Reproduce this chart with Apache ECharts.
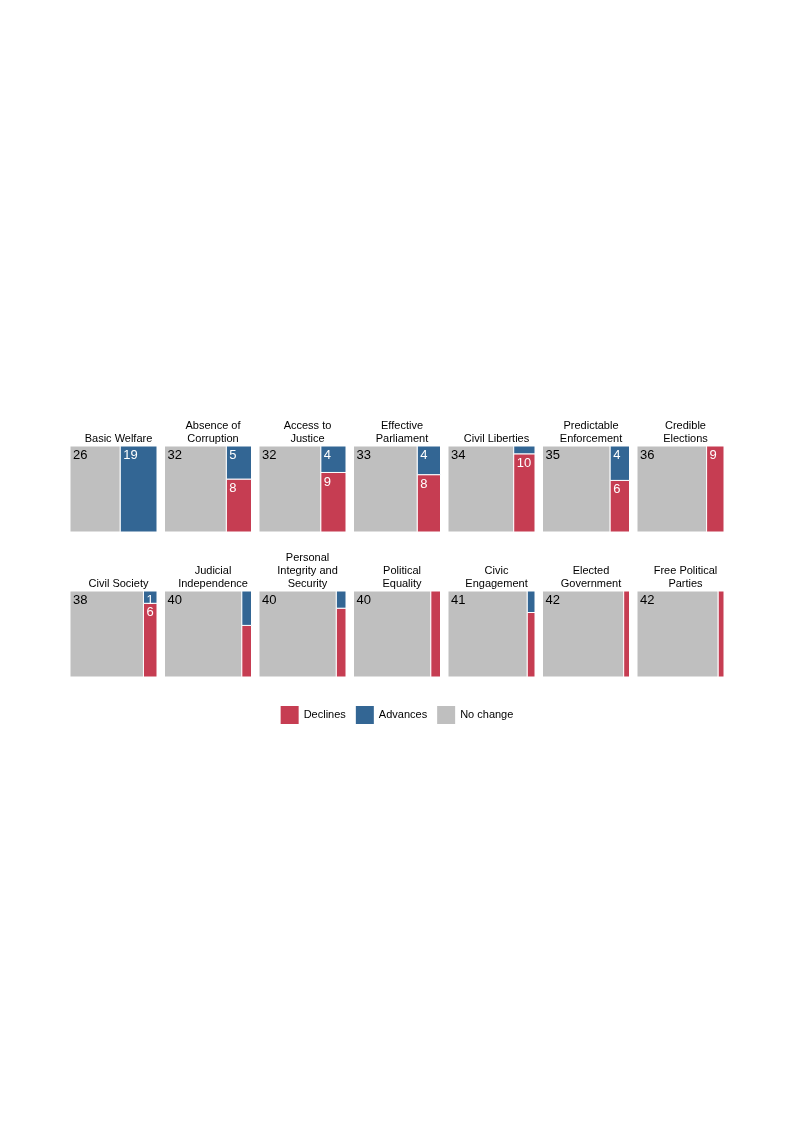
<!DOCTYPE html>
<html>
<head>
<meta charset="UTF-8">
<script src="https://cdn.jsdelivr.net/npm/echarts@6/dist/echarts.min.js"></script>
<style>body{margin:0}#main{width:794px;height:1123px}</style>
</head>
<body>
<div id="main"></div>
<script>
var TOTAL = 45;
var names = ['Basic Welfare', 'Absence of\nCorruption', 'Access to\nJustice', 'Effective\nParliament', 'Civil Liberties', 'Predictable\nEnforcement', 'Credible\nElections',
  'Civil Society', 'Judicial\nIndependence', 'Personal\nIntegrity and\nSecurity', 'Political\nEquality', 'Civic\nEngagement', 'Elected\nGovernment', 'Free Political\nParties'];
var noChange = [26, 32, 32, 33, 34, 35, 36, 38, 40, 40, 40, 41, 42, 42];
var advances = [19, 5, 4, 4, 1, 4, 0, 1, 2, 1, 0, 1, 0, 0];
var declines = [0, 8, 9, 8, 10, 6, 9, 6, 3, 4, 5, 3, 3, 3];

var C_DEC = '#c63d52', C_ADV = '#336694', C_NC = '#bfbfbf';

var grids = [], xAxes = [], yAxes = [], series = [], titles = [];
names.forEach(function (n, i) {
  var col = i % 7, row = Math.floor(i / 7);
  var left = 70 + col * 94.5, top = row === 0 ? 446 : 591;
  grids.push({left: left, top: top, width: 87, height: 86});
  xAxes.push({gridIndex: i, type: 'value', min: 0, max: TOTAL, show: false});
  yAxes.push({gridIndex: i, type: 'value', min: 0, max: 1, show: false});
  titles.push({text: n, left: left + 43.5, top: top - 6, textAlign: 'center', textVerticalAlign: 'bottom',
    textStyle: {fontSize: 11, fontWeight: 'normal', color: '#000', fontFamily: 'Liberation Sans', lineHeight: 13}});
  var rest = advances[i] + declines[i];
  var dh = rest ? declines[i] / rest : 0;
  var data = [
    [0, noChange[i], 0, 1, noChange[i], C_NC, '#000', true],
    [noChange[i], TOTAL, 0, dh, declines[i], C_DEC, '#fff', rest >= 6 && dh >= 0.14],
    [noChange[i], TOTAL, dh, 1, advances[i], C_ADV, '#fff', rest >= 6 && (1 - dh) >= 0.14]
  ].filter(function (d) { return d[3] > d[2]; });
  series.push({
    type: 'custom', xAxisIndex: i, yAxisIndex: i, data: data,
    renderItem: function (params, api) {
      var d = data[params.dataIndex];
      var p0 = api.coord([d[0], d[3]]), p1 = api.coord([d[1], d[2]]);
      var el = {type: 'group', children: [{
        type: 'rect', shape: {x: p0[0], y: p0[1], width: p1[0] - p0[0], height: p1[1] - p0[1]},
        style: {fill: d[5], stroke: '#fff', lineWidth: 1}
      }]};
      if (d[7]) el.children.push({type: 'text', x: p0[0] + 3, y: p0[1] + 3,
        style: {text: String(d[4]), fill: d[6], fontSize: 13, fontFamily: 'Liberation Sans'}});
      return el;
    }
  });
});

series.push({type: 'bar', name: 'Declines', xAxisIndex: 0, yAxisIndex: 0, data: [], itemStyle: {color: C_DEC}});
series.push({type: 'bar', name: 'Advances', xAxisIndex: 0, yAxisIndex: 0, data: [], itemStyle: {color: C_ADV}});
series.push({type: 'bar', name: 'No change', xAxisIndex: 0, yAxisIndex: 0, data: [], itemStyle: {color: C_NC}});

var chart = echarts.init(document.getElementById('main'));
chart.setOption({
  animation: false,
  title: titles,
  grid: grids, xAxis: xAxes, yAxis: yAxes, series: series,
  legend: {data: ['Declines', 'Advances', 'No change'], left: 'center', top: 701, itemWidth: 18, itemHeight: 18,
    itemGap: 10, textStyle: {fontSize: 11, color: '#000', fontFamily: 'Liberation Sans'}, icon: 'rect'}
});
</script>
</body>
</html>
